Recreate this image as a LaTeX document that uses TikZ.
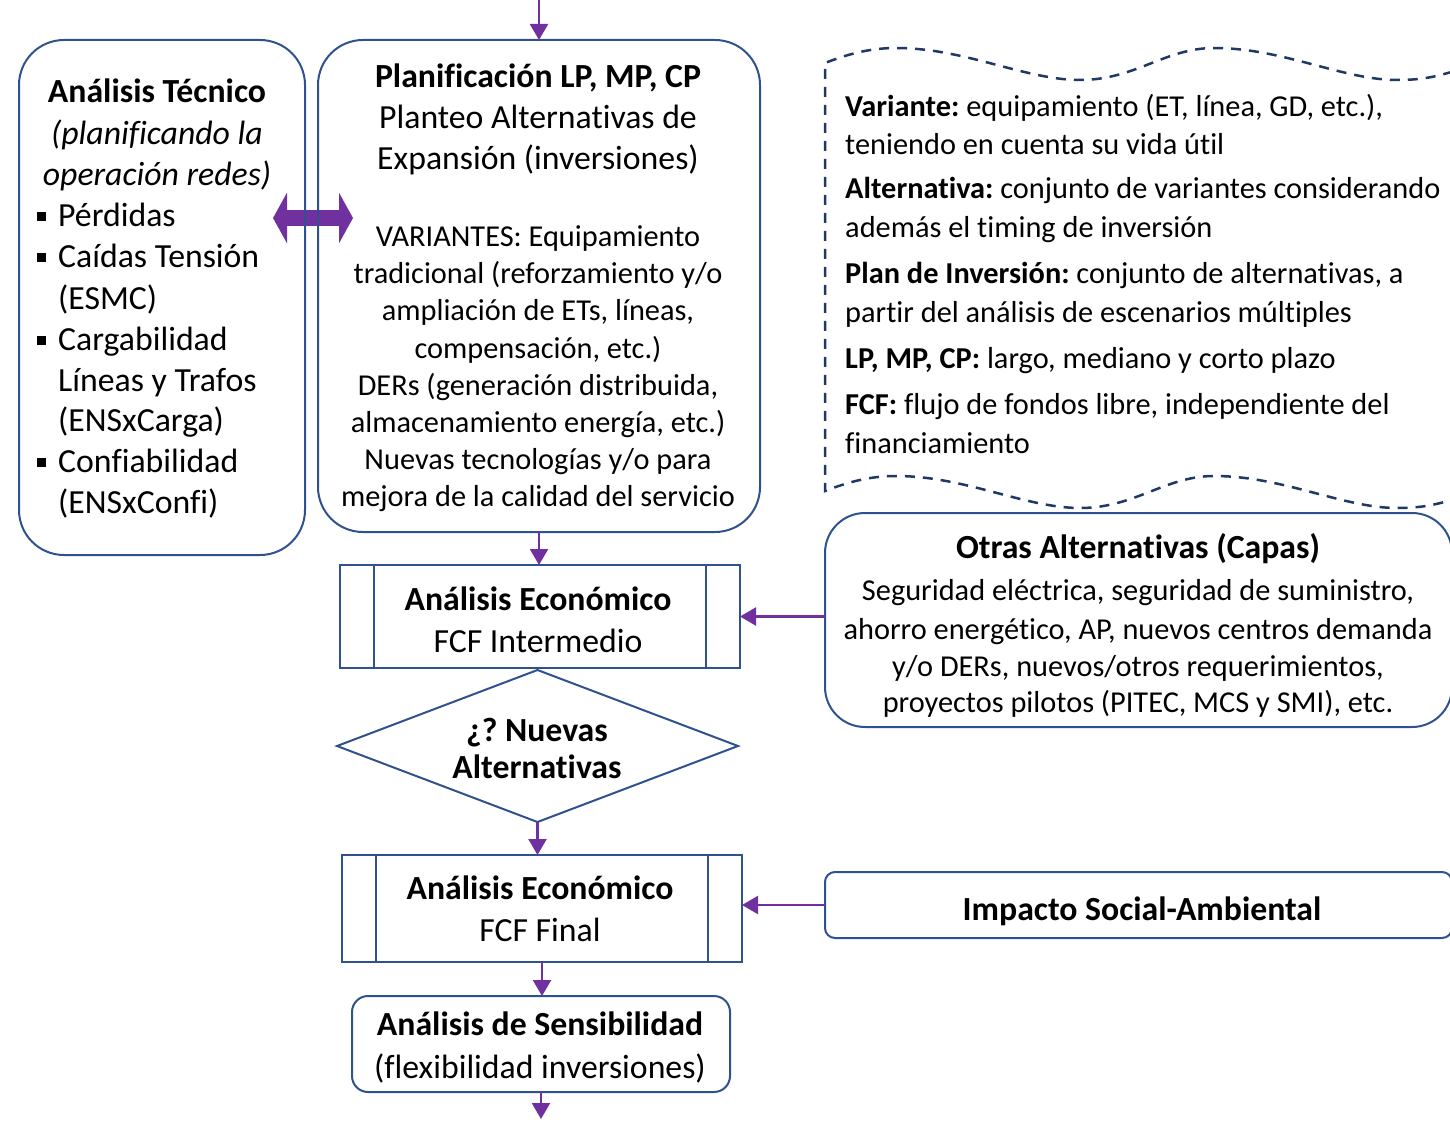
\documentclass[tikz,border=0pt]{standalone}
\usepackage{fontspec}
\setmainfont{Carlito}[Ligatures=NoCommon]
\usetikzlibrary{arrows.meta,shapes.geometric}
\definecolor{boxblue}{HTML}{2F528F}
\definecolor{waveblue}{HTML}{203864}
\definecolor{flowpurple}{HTML}{7030A0}
\frenchspacing
\begin{document}
\begin{tikzpicture}[x=1pt,y=-1pt,
  box/.style={draw=boxblue, line width=2pt, inner sep=0pt, outer sep=0pt},
  txt/.style={inner sep=0pt, anchor=mid, yshift=-9pt},
  big/.style={txt, font=\fontsize{33.75}{41}\selectfont},
  bigB/.style={txt, font=\fontsize{33.75}{41}\selectfont\bfseries},
  bigI/.style={txt, font=\fontsize{33.75}{41}\selectfont\itshape},
  bigL/.style={big, anchor=mid west},
  small/.style={txt, font=\fontsize{30.35}{37}\selectfont},
  smallL/.style={small, anchor=mid west},
  flow/.style={draw=flowpurple, line width=2.2pt, -{Triangle[width=18pt,length=16pt]}},
  twoway/.style={draw=flowpurple, line width=16pt,
    {Triangle[width=50pt,length=14pt]}-{Triangle[width=50pt,length=14pt]}},
  bulletsq/.style={fill=black, inner sep=0pt, minimum size=9pt},
  wavy/.style={draw=waveblue, line width=2.5pt, dash pattern=on 10pt off 8pt}
]
\path[use as bounding box] (0,0) rectangle (1450,1121);
\clip (0,0) rectangle (1450,1121);

% ---- shapes ----
\coordinate (tecAnchor) at (162,297.5);
\coordinate (planAnchor) at (539,286);

% two-way link between technical analysis and planning (drawn under the outlines)
\path (tecAnchor) ++(143,-79.5) coordinate (tecR);
\path (planAnchor) ++(-221,-68) coordinate (planL);
\draw[twoway, shorten <=-32pt, shorten >=-35pt] (tecR) -- (planL);

\node[box, rounded corners=45pt, minimum width=286pt, minimum height=515pt] (tec) at (tecAnchor) {};
\node[box, rounded corners=45pt, minimum width=442pt, minimum height=492pt] (plan) at (planAnchor) {};
\node[box, minimum width=400pt, minimum height=103pt] (econA) at (540,616.5) {};
\node[box, diamond, minimum width=401pt, minimum height=152pt] (decide) at (537.5,746) {};
\node[box, minimum width=400pt, minimum height=107pt] (econB) at (542,908.5) {};
\node[box, rounded corners=16pt, minimum width=378pt, minimum height=96pt] (sens) at (541,1044) {};
\node[box, rounded corners=40pt, minimum width=627pt, minimum height=214pt] (otras) at (1138.5,620) {};
\node[box, rounded corners=10pt, minimum width=627pt, minimum height=66pt] (impacto) at (1138.5,905) {};

% predefined-process side bars
\foreach \n in {econA,econB}{
  \draw[boxblue, line width=2pt] ([xshift=34pt]\n.north west) -- ([xshift=34pt]\n.south west);
  \draw[boxblue, line width=2pt] ([xshift=-34pt]\n.north east) -- ([xshift=-34pt]\n.south east);
}

% wavy dashed glossary frame
\draw[wavy] (1470,66) .. controls (1440,76) and (1425,80) .. (1397,80)
  .. controls (1343,80) and (1283,48) .. (1214,48)
  .. controls (1165,48) and (1135,80) .. (1080,80)
  .. controls (1025,80) and (965,48) .. (896,48)
  .. controls (870,48) and (848,54) .. (825,63)
  -- (825,491)
  .. controls (848,482) and (870,476) .. (896,476)
  .. controls (965,476) and (1025,508) .. (1080,508)
  .. controls (1135,508) and (1165,476) .. (1214,476)
  .. controls (1283,476) and (1343,508) .. (1397,508)
  .. controls (1425,508) and (1440,504) .. (1470,494);

% ---- connectors ----
\coordinate (inTop) at (539,0);
\coordinate (outBot) at (541,1119);
\draw[flow] (inTop) -- (plan.north);
\draw[flow] (plan.south) -- (plan.south |- econA.north);
\draw[flow] (decide.south) -- (decide.south |- econB.north);
\draw[flow] (econB.south) -- (econB.south |- sens.north);
\draw[flow] (sens.south) -- (outBot);
\draw[flow] (otras.west |- econA.east) -- (econA.east);
\draw[flow] (impacto.west) -- (impacto.west -| econB.east);

% ---- technical analysis text ----
\node[bigB] (tecT1) at (157,91) {Análisis Técnico};
\node[bigI] (tecT2) at (157,133) {(planificando la};
\node[bigI] (tecT3) at (157,174) {operación redes)};
\node[bulletsq] (bu1) at (41,216) {};
\node[bulletsq] (bu2) at (41,257) {};
\node[bulletsq] (bu3) at (41,340) {};
\node[bulletsq] (bu4) at (41,462) {};
\node[bigL] (tecL1) at (58,215) {Pérdidas};
\node[bigL] (tecL2) at (58,256) {Caídas Tensión};
\node[bigL] (tecL3) at (58,298) {(ESMC)};
\node[bigL] (tecL4) at (58,339) {Cargabilidad};
\node[bigL] (tecL5) at (58,380) {Líneas y Trafos};
\node[bigL] (tecL6) at (58,420) {(ENSxCarga)};
\node[bigL] (tecL7) at (58,461) {Confiabilidad};
\node[bigL] (tecL8) at (58,502) {(ENSxConfi)};

% ---- planning text ----
\node[bigB] (plT1) at (538,76) {Planificación LP, MP, CP};
\node[big] (plT2) at (538,117) {Planteo Alternativas de};
\node[big] (plT3) at (538,158) {Expansión (inversiones)};
\node[small] (plV1) at (538,235) {VARIANTES: Equipamiento};
\node[small] (plV2) at (538,272) {tradicional (reforzamiento y/o};
\node[small] (plV3) at (538,309) {ampliación de ETs, líneas,};
\node[small] (plV4) at (538,347) {compensación, etc.)};
\node[small] (plV5) at (538,384) {DERs (generación distribuida,};
\node[small] (plV6) at (538,421) {almacenamiento energía, etc.)};
\node[small] (plV7) at (538,458) {Nuevas tecnologías y/o para};
\node[small] (plV8) at (538,495) {mejora de la calidad del servicio};

% ---- glossary text ----
\node[smallL] (gl1) at (845,105) {\textbf{Variante:} equipamiento (ET, línea, GD, etc.),};
\node[smallL] (gl2) at (845,143) {teniendo en cuenta su vida útil};
\node[smallL] (gl3) at (845,187) {\textbf{Alternativa:} conjunto de variantes considerando};
\node[smallL] (gl4) at (845,226) {además el timing de inversión};
\node[smallL] (gl5) at (845,272) {\textbf{Plan de Inversión:} conjunto de alternativas, a};
\node[smallL] (gl6) at (845,311) {partir del análisis de escenarios múltiples};
\node[smallL] (gl7) at (845,357) {\textbf{LP, MP, CP:} largo, mediano y corto plazo};
\node[smallL] (gl8) at (845,403) {\textbf{FCF:} flujo de fondos libre, independiente del};
\node[smallL] (gl9) at (845,442) {financiamiento};

% ---- other alternatives text ----
\node[bigB] (otT) at (1138,547) {Otras Alternativas (Capas)};
\node[small] (ot1) at (1138,589) {Seguridad eléctrica, seguridad de suministro,};
\node[small] (ot2) at (1138,628) {ahorro energético, AP, nuevos centros demanda};
\node[small] (ot3) at (1138,665) {y/o DERs, nuevos/otros requerimientos,};
\node[small] (ot4) at (1138,701) {proyectos pilotos (PITEC, MCS y SMI), etc.};

\node[bigB] (imT) at (1142,909) {Impacto Social-Ambiental};

% ---- flow column text ----
\node[bigB] (eaT1) at (538,599) {Análisis Económico};
\node[big] (eaT2) at (538,641) {FCF Intermedio};
\node[bigB] (deT1) at (537,730) {¿? Nuevas};
\node[bigB] (deT2) at (537,767) {Alternativas};
\node[bigB] (ebT1) at (540,888) {Análisis Económico};
\node[big] (ebT2) at (540,930) {FCF Final};
\node[bigB] (seT1) at (540,1024) {Análisis de Sensibilidad};
\node[big] (seT2) at (540,1067) {(flexibilidad inversiones)};
\end{tikzpicture}
\end{document}
